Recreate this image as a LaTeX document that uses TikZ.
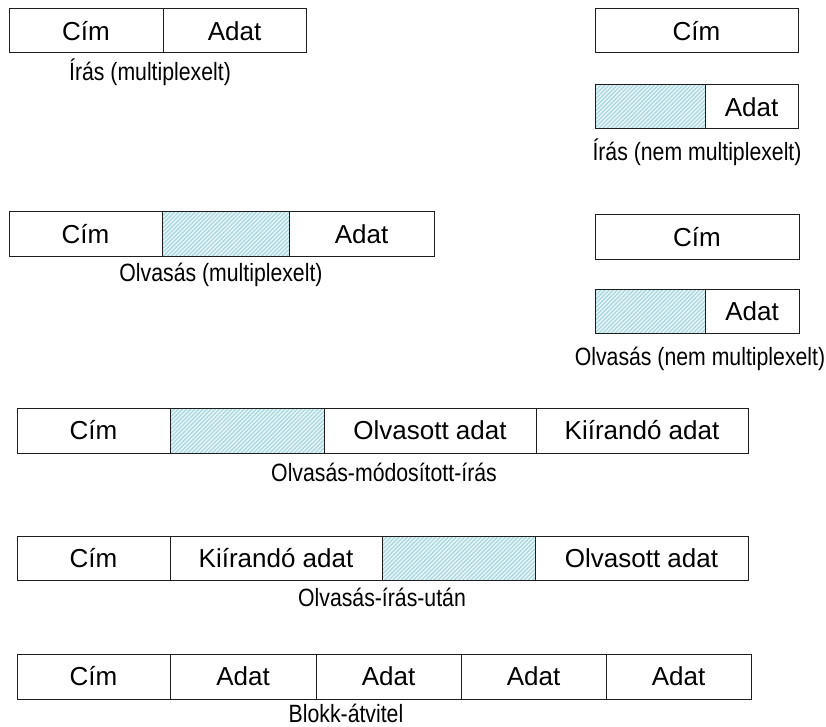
\documentclass[tikz,border=0pt]{standalone}
\usepackage{fontspec}
\setmainfont{Liberation Sans}
\newfontfamily\cellfont{Liberation Sans}
\newfontfamily\capfont[FakeStretch=0.85]{Liberation Sans}
\usetikzlibrary{patterns.meta}
\definecolor{hatchbg}{RGB}{232,246,248}
\definecolor{hatchline}{RGB}{170,216,224}
\definecolor{edge}{RGB}{30,30,30}
\begin{document}
\begin{tikzpicture}[x=1pt,y=-1pt,
  cell/.style={draw=edge, line width=1pt, inner sep=0pt, outer sep=0pt,
    anchor=north west, minimum height=44pt,
    font=\cellfont\fontsize{26}{30}\selectfont},
  hatched/.style={cell, preaction={fill=hatchbg},
    pattern={Lines[angle=45,distance=2.9pt,line width=1.3pt]},
    pattern color=hatchline},
  caption/.style={anchor=base, inner sep=0pt,
    font=\capfont\fontsize{25}{29}\selectfont}]
\useasboundingbox (0,0) rectangle (826,727);

% Write, multiplexed
\node[cell, minimum width=154pt] (wmA) at (9,9) {Cím};
\node[cell, minimum width=143pt] (wmB) at (163,9) {Adat};
\node[caption] (wmL) at (150,81) {Írás (multiplexelt)};

% Write, non-multiplexed
\node[cell, minimum width=203pt] (wnA) at (595,9) {Cím};
\node[hatched, minimum width=110pt] (wnW) at (595,85) {};
\node[cell, minimum width=93pt] (wnB) at (705,85) {Adat};
\node[caption] (wnL) at (697,161) {Írás (nem multiplexelt)};

% Read, multiplexed
\node[cell, minimum width=153pt] (rmA) at (9,212) {Cím};
\node[hatched, minimum width=127pt] (rmW) at (162,212) {};
\node[cell, minimum width=145pt] (rmB) at (289,212) {Adat};
\node[caption] (rmL) at (221,281) {Olvasás (multiplexelt)};

% Read, non-multiplexed
\node[cell, minimum width=204pt] (rnA) at (595,215) {Cím};
\node[hatched, minimum width=110pt] (rnW) at (595,289) {};
\node[cell, minimum width=94pt] (rnB) at (705,289) {Adat};
\node[caption] (rnL) at (700,365) {Olvasás (nem multiplexelt)};

% Read-modify-write
\node[cell, minimum width=153pt, minimum height=45pt] (rmwA) at (17,408) {Cím};
\node[hatched, minimum width=154pt, minimum height=45pt] (rmwW) at (170,408) {};
\node[cell, minimum width=212pt, minimum height=45pt] (rmwR) at (324,408) {Olvasott adat};
\node[cell, minimum width=212pt, minimum height=45pt] (rmwK) at (536,408) {Kiírandó adat};
\node[caption] (rmwL) at (384,481) {Olvasás-módosított-írás};

% Read-after-write
\node[cell, minimum width=153pt] (rawA) at (17,536) {Cím};
\node[cell, minimum width=212pt] (rawK) at (170,536) {Kiírandó adat};
\node[hatched, minimum width=153pt] (rawW) at (382,536) {};
\node[cell, minimum width=213pt] (rawR) at (535,536) {Olvasott adat};
\node[caption] (rawL) at (382,606) {Olvasás-írás-után};

% Block transfer
\node[cell, minimum width=153pt, minimum height=45pt] (blA) at (17,654) {Cím};
\node[cell, minimum width=146pt, minimum height=45pt] (blD1) at (170,654) {Adat};
\node[cell, minimum width=145pt, minimum height=45pt] (blD2) at (316,654) {Adat};
\node[cell, minimum width=145pt, minimum height=45pt] (blD3) at (461,654) {Adat};
\node[cell, minimum width=145pt, minimum height=45pt] (blD4) at (606,654) {Adat};
\node[caption] (blL) at (346,722) {Blokk-átvitel};
\end{tikzpicture}
\end{document}
